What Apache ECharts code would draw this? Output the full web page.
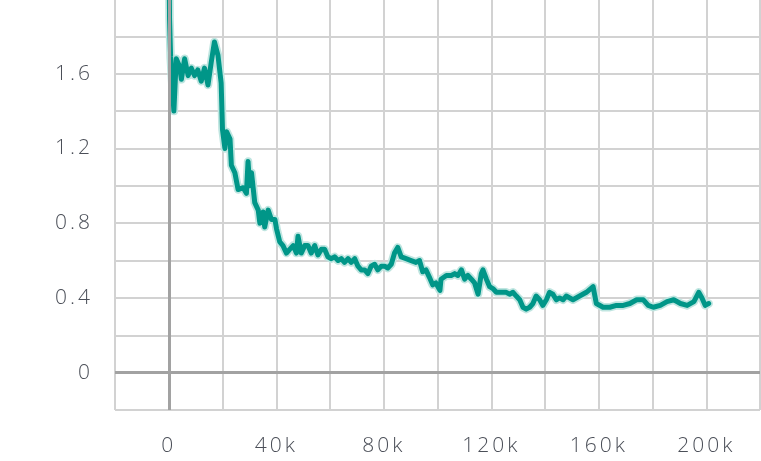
<!DOCTYPE html>
<html>
<head>
<meta charset="utf-8">
<script src="https://cdn.jsdelivr.net/npm/echarts@6/dist/echarts.min.js"></script>
<style>
  html, body { margin: 0; padding: 0; background: #fff; }
  #chart { width: 761px; height: 461px; }
</style>
</head>
<body>
<div id="chart"></div>
<script>
// Training steps (x) and loss values (y)
const steps = [
  0, 300, 700, 1900, 2800, 4000, 4700, 5900, 7200, 8400, 9600, 10800, 12100, 13300, 14600,
  15800, 17000, 18300, 19500, 20000, 20900, 21500, 22800, 23300, 24600, 25800, 27700, 28900,
  29500, 30100, 30800, 32000, 33300, 33900, 35100, 35700, 37000, 38200, 39500, 40100, 41300,
  42500, 43800, 45000, 46300, 47500, 48100, 49300, 50600, 51800, 53000, 54300, 55500, 56800,
  58000, 59200, 60500, 61700, 63000, 64200, 65400, 66700, 67900, 69200, 70400, 71600, 72900,
  74100, 75300, 76600, 77800, 79100, 80300, 81500, 82800, 84000, 85200, 86500, 88300, 90200,
  92000, 93300, 94500, 95700, 97000, 98200, 99400, 100900, 101300, 103300, 105100, 106400,
  107600, 108900, 110100, 111300, 112600, 113800, 115100, 116300, 116900, 118200, 119400,
  120600, 121900, 123100, 124400, 125600, 126800, 128100, 129300, 130600, 131800, 133000,
  134300, 135500, 136700, 138000, 139200, 140500, 141700, 142900, 144200, 145400, 146700,
  147900, 150400, 152900, 155400, 157900, 159100, 161600, 164100, 166600, 169100, 171600,
  174100, 176600, 178400, 180300, 182900, 185400, 187900, 190400, 192900, 195400, 197200,
  198400, 199600, 200900
];
const lossValues = [
  2.40, 1.89, 1.69, 1.40, 1.68, 1.64, 1.57, 1.68, 1.59, 1.63, 1.59, 1.62, 1.56, 1.63, 1.54,
  1.66, 1.77, 1.70, 1.55, 1.30, 1.20, 1.29, 1.25, 1.11, 1.07, 0.98, 0.99, 0.96,
  1.13, 1.00, 1.07, 0.91, 0.87, 0.80, 0.86, 0.78, 0.87, 0.82, 0.82, 0.77, 0.70,
  0.68, 0.64, 0.66, 0.68, 0.64, 0.73, 0.64, 0.68, 0.68, 0.64, 0.68, 0.63, 0.66,
  0.66, 0.62, 0.61, 0.62, 0.60, 0.61, 0.59, 0.61, 0.59, 0.61, 0.57, 0.55, 0.55,
  0.53, 0.57, 0.58, 0.55, 0.57, 0.57, 0.56, 0.58, 0.64, 0.67, 0.62, 0.61, 0.60,
  0.59, 0.60, 0.54, 0.55, 0.51, 0.47, 0.48, 0.44, 0.50, 0.52, 0.52, 0.53,
  0.52, 0.55, 0.50, 0.52, 0.50, 0.48, 0.42, 0.53, 0.55, 0.50, 0.46,
  0.45, 0.43, 0.43, 0.43, 0.43, 0.42, 0.43, 0.41, 0.39, 0.35, 0.34,
  0.35, 0.37, 0.41, 0.39, 0.36, 0.39, 0.43, 0.42, 0.39, 0.40, 0.39,
  0.41, 0.39, 0.41, 0.43, 0.46, 0.37, 0.35, 0.35, 0.36, 0.36, 0.37,
  0.39, 0.39, 0.36, 0.35, 0.36, 0.38, 0.39, 0.37, 0.36, 0.38, 0.43,
  0.40, 0.36, 0.37
];
// Tick labels shown on the axes
const xTickLabels = { 0: '0', 40000: '40k', 80000: '80k', 120000: '120k', 160000: '160k', 200000: '200k' };
const yTickLabels = { 0: '0', 4: '0.4', 8: '0.8', 12: '1.2', 16: '1.6' };

// Widen the letter spacing of the axis labels (the reference uses spaced, light digits)
(function () {
  const proto = CanvasRenderingContext2D.prototype;
  const origFill = proto.fillText;
  proto.fillText = function () {
    if ('letterSpacing' in this) this.letterSpacing = '3px';
    const r = origFill.apply(this, arguments);
    if ('letterSpacing' in this) this.letterSpacing = '0px';
    return r;
  };
})();

const points = steps.map((s, i) => [s, lossValues[i]]);

const gridColor = '#d2d2d2';
const labelStyle = {
  color: '#4b4f58',
  fontFamily: 'Open Sans',
  fontWeight: 300,
  fontSize: 21
};

const chart = echarts.init(document.getElementById('chart'), null, { renderer: 'canvas' });
chart.setOption({
  animation: false,
  backgroundColor: '#ffffff',
  grid: { left: 115, right: 1, top: -1, bottom: 51, containLabel: false, outerBoundsMode: 'none' },
  xAxis: {
    type: 'value',
    min: -20000,
    max: 220000,
    interval: 20000,
    axisLine: { show: false },
    axisTick: { show: true, length: 11, lineStyle: { color: gridColor, width: 2 } },
    splitLine: { show: true, lineStyle: { color: gridColor, width: 2 } },
    axisLabel: Object.assign({
      margin: 26,
      formatter: v => (xTickLabels[Math.round(v)] !== undefined ? xTickLabels[Math.round(v)] : '')
    }, labelStyle)
  },
  yAxis: {
    type: 'value',
    min: -0.2,
    max: 2.0,
    interval: 0.2,
    axisLine: { show: false },
    axisTick: { show: true, length: 11, lineStyle: { color: gridColor, width: 2 } },
    splitLine: { show: true, showMaxLine: false, lineStyle: { color: gridColor, width: 2 } },
    axisLabel: Object.assign({
      margin: 22,
      formatter: v => {
        const k = Math.round(v * 10);
        return yTickLabels[k] !== undefined ? yTickLabels[k] : '';
      }
    }, labelStyle)
  },
  series: [
    {
      type: 'line',
      data: points,
      showSymbol: false,
      symbol: 'none',
      z: 2,
      lineStyle: { color: '#bfe5e0', width: 8.5, join: 'round', cap: 'round' },
      markLine: {
        silent: true,
        symbol: 'none',
        label: { show: false },
        lineStyle: { color: '#a2a2a2', width: 3, type: 'solid' },
        data: [{ xAxis: 0 }, { yAxis: 0 }]
      }
    },
    {
      type: 'line',
      data: points,
      showSymbol: false,
      symbol: 'none',
      z: 3,
      lineStyle: { color: '#009688', width: 5, join: 'round', cap: 'round' }
    }
  ]
});
</script>
</body>
</html>
